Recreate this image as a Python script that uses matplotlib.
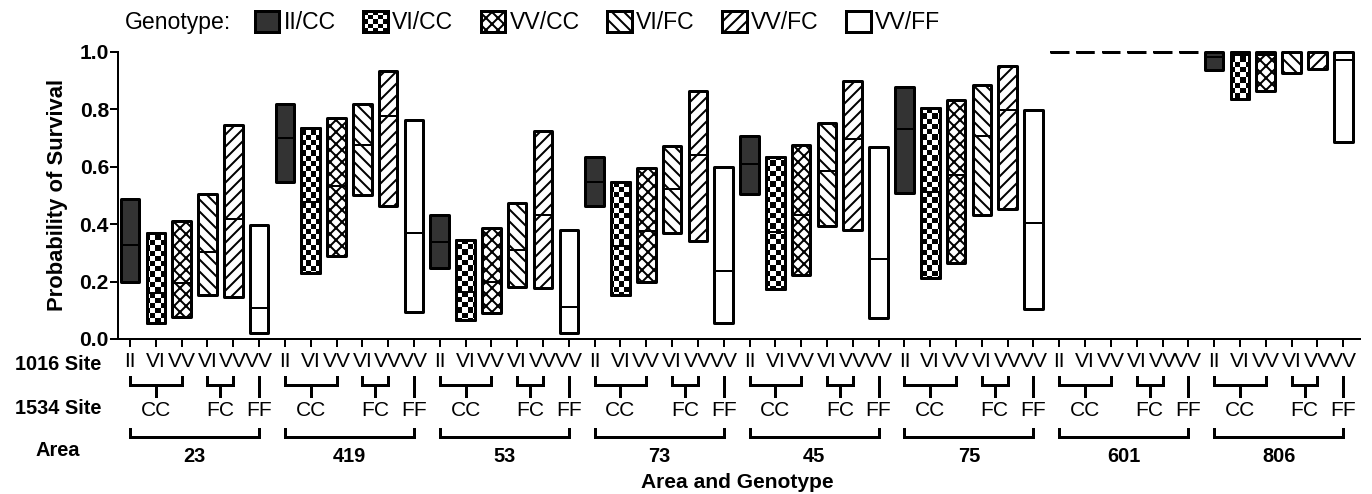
import matplotlib
matplotlib.use('Agg')
import matplotlib.pyplot as plt
import numpy as np
from matplotlib.patches import Patch, Rectangle
from matplotlib.legend_handler import HandlerBase

plt.rcParams['font.family'] = ['Liberation Sans', 'DejaVu Sans']
plt.rcParams['hatch.linewidth'] = 2.0

areas = ['23', '419', '53', '73', '45', '75', '601', '806']
genotypes = ['II/CC', 'VI/CC', 'VV/CC', 'VI/FC', 'VV/FC', 'VV/FF']
site_1016 = ['II', 'VI', 'VV', 'VI', 'VV', 'VV']
site_1534 = ['CC', 'FC', 'FF']

# per area, genotype order as above
lower = [
    [0.200, 0.057, 0.078, 0.153, 0.147, 0.020],
    [0.545, 0.229, 0.289, 0.502, 0.463, 0.095],
    [0.248, 0.066, 0.089, 0.182, 0.177, 0.022],
    [0.464, 0.153, 0.200, 0.368, 0.341, 0.055],
    [0.504, 0.173, 0.222, 0.394, 0.380, 0.072],
    [0.508, 0.211, 0.266, 0.432, 0.452, 0.103],
    [1.000, 1.000, 1.000, 1.000, 1.000, 1.000],
    [0.937, 0.835, 0.864, 0.926, 0.940, 0.687],
]
middle = [
    [0.328, 0.160, 0.196, 0.304, 0.418, 0.109],
    [0.699, 0.478, 0.534, 0.676, 0.775, 0.370],
    [0.339, 0.165, 0.200, 0.310, 0.430, 0.110],
    [0.545, 0.322, 0.376, 0.522, 0.639, 0.235],
    [0.609, 0.374, 0.432, 0.585, 0.697, 0.279],
    [0.731, 0.513, 0.571, 0.708, 0.798, 0.403],
    [1.000, 1.000, 1.000, 1.000, 1.000, 1.000],
    [0.980, 0.990, 0.990, 1.000, 1.000, 0.970],
]
upper = [
    [0.487, 0.370, 0.411, 0.504, 0.746, 0.397],
    [0.819, 0.736, 0.769, 0.818, 0.934, 0.763],
    [0.432, 0.345, 0.388, 0.475, 0.725, 0.380],
    [0.632, 0.548, 0.595, 0.672, 0.862, 0.600],
    [0.707, 0.633, 0.676, 0.752, 0.897, 0.667],
    [0.876, 0.804, 0.833, 0.885, 0.951, 0.798],
    [1.000, 1.000, 1.000, 1.000, 1.000, 1.000],
    [1.000, 1.000, 1.000, 1.000, 1.000, 1.000],
]

faces = ['#333333', 'white', 'white', 'white', 'white', 'white']
hatches = [None, None, 'xx', '\\\\', '//', None]

W, H, DPI = 1372, 494, 72
fig = plt.figure(figsize=(W / DPI, H / DPI), dpi=DPI)
ax = fig.add_axes([118 / W, 155 / H, 1242 / W, 287.3 / H])
xlim = (-0.465, 47.65)

# checkerboard texture, ~5 px squares
rows, cols = 55, 238
checker = np.add.outer(np.arange(rows), np.arange(cols)) % 2

bw = 0.72
n = len(genotypes)
for a in range(len(areas)):
    for g in range(n):
        i = a * n + g
        lo, mid, hi = lower[a][g], middle[a][g], upper[a][g]
        bar = ax.bar(i, hi - lo, bottom=lo, width=bw, color=faces[g], edgecolor='black',
                     lw=3, hatch=hatches[g], clip_on=False, zorder=2, joinstyle='round')[0]
        if g == 1:
            im = ax.imshow(checker, extent=(xlim[0], xlim[1], 0, 1), cmap='gray',
                           interpolation='nearest', aspect='auto', zorder=2.5)
            im.set_clip_path(bar)
            ax.bar(i, hi - lo, bottom=lo, width=bw, fill=False, edgecolor='black', lw=3,
                   clip_on=False, zorder=3, joinstyle='round')
        ax.plot([i - bw / 2, i + bw / 2], [mid, mid], color='black', lw=2, zorder=4,
                clip_on=False, solid_capstyle='butt')

ax.set_xlim(*xlim)
ax.set_ylim(0, 1.0)
ax.spines['top'].set_visible(False)
ax.spines['right'].set_visible(False)
ax.spines['left'].set_linewidth(2)
ax.spines['bottom'].set_linewidth(2)

ax.set_yticks(np.arange(0, 1.01, 0.2))
ax.set_yticklabels(['%.1f' % v for v in np.arange(0, 1.01, 0.2)], fontsize=21, fontweight='bold')
ax.set_xticks(range(len(areas) * n))
ax.set_xticklabels(site_1016 * len(areas), fontsize=21)
ax.tick_params(axis='y', length=8, width=2, pad=1)
ax.tick_params(axis='x', length=8, width=2, pad=5)

# brackets and group labels under the axis
tr = ax.get_xaxis_transform()
def ya(px):
    return (339 - px) / 287.3

bk = dict(color='black', lw=3, clip_on=False, transform=tr, solid_joinstyle='miter')
for a in range(len(areas)):
    s = a * n
    ax.plot([s, s, s + 2, s + 2], [ya(377), ya(385), ya(385), ya(377)], **bk)
    ax.plot([s + 1, s + 1], [ya(385), ya(395.5)], **bk)
    ax.plot([s + 3, s + 3, s + 4, s + 4], [ya(377), ya(385), ya(385), ya(377)], **bk)
    ax.plot([s + 3.5, s + 3.5], [ya(385), ya(395.5)], **bk)
    ax.plot([s + 5, s + 5], [ya(377), ya(395.5)], **bk)
    for lab, xc in zip(site_1534, [s + 1, s + 3.5, s + 5]):
        ax.text(xc, ya(410), lab, transform=tr, ha='center', va='center', fontsize=21)
    ax.plot([s, s, s + 5, s + 5], [ya(429), ya(437.3), ya(437.3), ya(429)], **bk)
    ax.text(s + 2.5, ya(456), areas[a], transform=tr, ha='center', va='center',
            fontsize=20, fontweight='bold')

for lab, py in [('1016 Site', 365), ('1534 Site', 409), ('Area', 450.7)]:
    fig.text(58 / W, 1 - py / H, lab, ha='center', va='center', fontsize=20, fontweight='bold')
fig.text(737 / W, 1 - 482.7 / H, 'Area and Genotype', ha='center', va='center',
         fontsize=21, fontweight='bold')
fig.text(57 / W, 1 - 195 / H, 'Probability of Survival', rotation=90, ha='center',
         va='center', fontsize=22, fontweight='bold')


class CheckerHandler(HandlerBase):
    def create_artists(self, legend, orig_handle, xdescent, ydescent, width, height, fontsize, trans):
        arts = []
        k = 5
        cw, ch = width / k, height / k
        for p in range(k):
            for q in range(k):
                if (p + q) % 2 == 0:
                    arts.append(Rectangle((-xdescent + p * cw, -ydescent + q * ch), cw, ch,
                                          facecolor='black', edgecolor='none', transform=trans))
        arts.append(Rectangle((-xdescent, -ydescent), width, height, facecolor='none',
                              edgecolor='black', lw=3, transform=trans))
        return arts


handles = []
for g in range(n):
    handles.append(Patch(facecolor=faces[g], edgecolor='black', lw=3, hatch=hatches[g]))
fig.text(125 / W, 1 - 22 / H, 'Genotype:', ha='left', va='center', fontsize=23)
fig.legend(handles, genotypes, loc='center left', bbox_to_anchor=(255 / W, 1 - 22.5 / H),
           ncol=6, frameon=False, fontsize=23, handlelength=1.05, handleheight=1.05,
           handletextpad=0.2, columnspacing=1.2, borderpad=0, borderaxespad=0,
           handler_map={handles[1]: CheckerHandler()})

fig.savefig('out.png', dpi=DPI)
